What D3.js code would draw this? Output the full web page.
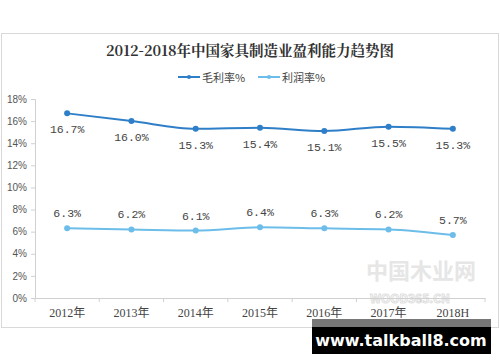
<!DOCTYPE html>
<html>
<head>
<meta charset="utf-8">
<script src="https://cdnjs.cloudflare.com/ajax/libs/d3/7.8.5/d3.min.js"></script>
<style>
  body { margin: 0; background: #fff; }
  svg { display: block; }
</style>
</head>
<body>
<div id="vis"></div>
<script>
const years = ["2012年", "2013年", "2014年", "2015年", "2016年", "2017年", "2018H"];
const grossMargin = [16.7, 16.0, 15.3, 15.4, 15.1, 15.5, 15.3];
const profitMargin = [6.3, 6.2, 6.1, 6.4, 6.3, 6.2, 5.7];
const yTicks = [0, 2, 4, 6, 8, 10, 12, 14, 16, 18];
const seriesNames = ["毛利率%", "利润率%"];

const w = 500, h = 362;
const plotLeft = 35, plotRight = 485, plotTop = 99, plotBottom = 298;
const colors = ["#2f7fc8", "#6cbde9"];
const cjk = "'Noto Sans CJK SC', 'Noto Sans', sans-serif";
const mono = "'Liberation Mono', 'DejaVu Sans Mono', monospace";

const svg = d3.select("#vis").append("svg").attr("width", w).attr("height", h);

// frame
svg.append("rect").attr("x", 1.5).attr("y", 33.5).attr("width", 497).attr("height", 294)
  .attr("fill", "#fff").attr("stroke", "#d9d9d9");

svg.append("text").attr("x", 250).attr("y", 56).attr("text-anchor", "middle")
  .attr("font-family", "'Noto Serif CJK SC', " + cjk).attr("font-weight", "bold")
  .attr("font-size", 14.5).attr("fill", "#333")
  .text("2012-2018年中国家具制造业盈利能力趋势图");

// legend
const legendX = [178, 258];
seriesNames.forEach((name, i) => {
  const g = svg.append("g").attr("transform", `translate(${legendX[i]},77)`);
  g.append("line").attr("x1", 0).attr("x2", 22).attr("y1", 0).attr("y2", 0)
    .attr("stroke", colors[i]).attr("stroke-width", 2);
  g.append("circle").attr("cx", 11).attr("cy", 0).attr("r", 2).attr("fill", colors[i]);
  g.append("text").attr("x", 24).attr("y", 4.5).attr("font-family", cjk)
    .attr("font-size", 11).attr("fill", "#444").text(name);
});

const x = d3.scaleBand().domain(years).range([plotLeft, plotRight]);
const y = d3.scaleLinear().domain([0, 18]).range([plotBottom, plotTop]);

// watermark (drawn first so marks and labels sit on top)
const wm = svg.append("g").attr("font-family", cjk).attr("font-weight", "bold");
wm.append("text").attr("x", 366).attr("y", 279).attr("font-size", 22).attr("fill", "#e6e6e6").text("中国木业网");
wm.append("text").attr("x", 370).attr("y", 303).attr("font-size", 12)
  .attr("fill", "none").attr("stroke", "#e0e0e0").text("WOOD365.CN");

// y axis
const yAxis = svg.append("g").attr("transform", `translate(${plotLeft},0)`)
  .call(d3.axisLeft(y).tickValues(yTicks).tickFormat(d => d + "%").tickSize(4).tickPadding(4));
yAxis.select(".domain").attr("stroke", "#d0d0d0");
yAxis.selectAll(".tick line").attr("stroke", "#d0d0d0");
yAxis.selectAll("text").attr("font-family", "'Liberation Sans Narrow', 'Liberation Sans', sans-serif")
  .attr("font-size", 10).attr("fill", "#555");

// x axis
const xAxis = svg.append("g").attr("transform", `translate(0,${plotBottom})`)
  .call(d3.axisBottom(x).tickSize(0).tickPadding(10));
xAxis.select(".domain").attr("stroke", "#d0d0d0");
xAxis.selectAll("text").attr("font-family", "'Liberation Serif', " + cjk)
  .attr("font-size", 12).attr("fill", "#444");
xAxis.selectAll(".sep").data(d3.range(years.length + 1)).join("line").attr("class", "sep")
  .attr("x1", i => plotLeft + i * x.step()).attr("x2", i => plotLeft + i * x.step())
  .attr("y1", 0).attr("y2", 4).attr("stroke", "#d0d0d0");

// lines
const cx = (d, i) => x(years[i]) + x.bandwidth() / 2;
const line = d3.line().x(cx).y(d => y(d)).curve(d3.curveMonotoneX);
[grossMargin, profitMargin].forEach((vals, s) => {
  const g = svg.append("g");
  g.append("path").datum(vals).attr("d", line).attr("fill", "none")
    .attr("stroke", colors[s]).attr("stroke-width", 2);
  g.selectAll("circle").data(vals).join("circle")
    .attr("cx", cx).attr("cy", d => y(d)).attr("r", 3).attr("fill", colors[s]);
  g.selectAll("text").data(vals).join("text")
    .attr("x", cx).attr("y", d => s === 0 ? y(d) + 20 : y(d) - 11)
    .attr("text-anchor", "middle").attr("font-family", mono).attr("font-size", 11.5)
    .attr("fill", "#444").text(d => d.toFixed(1) + "%");
});

// site badge
svg.append("rect").attr("x", 312).attr("y", 319).attr("width", 179).attr("height", 35).attr("fill", "#000");
svg.append("rect").attr("x", 312).attr("y", 319).attr("width", 179).attr("height", 8).attr("fill", "#777");
svg.append("text").attr("x", 401).attr("y", 346).attr("text-anchor", "middle")
  .attr("font-family", "'DejaVu Sans', sans-serif").attr("font-weight", "bold")
  .attr("font-size", 16).attr("fill", "#fff").text("www.talkball8.com");
</script>
</body>
</html>
